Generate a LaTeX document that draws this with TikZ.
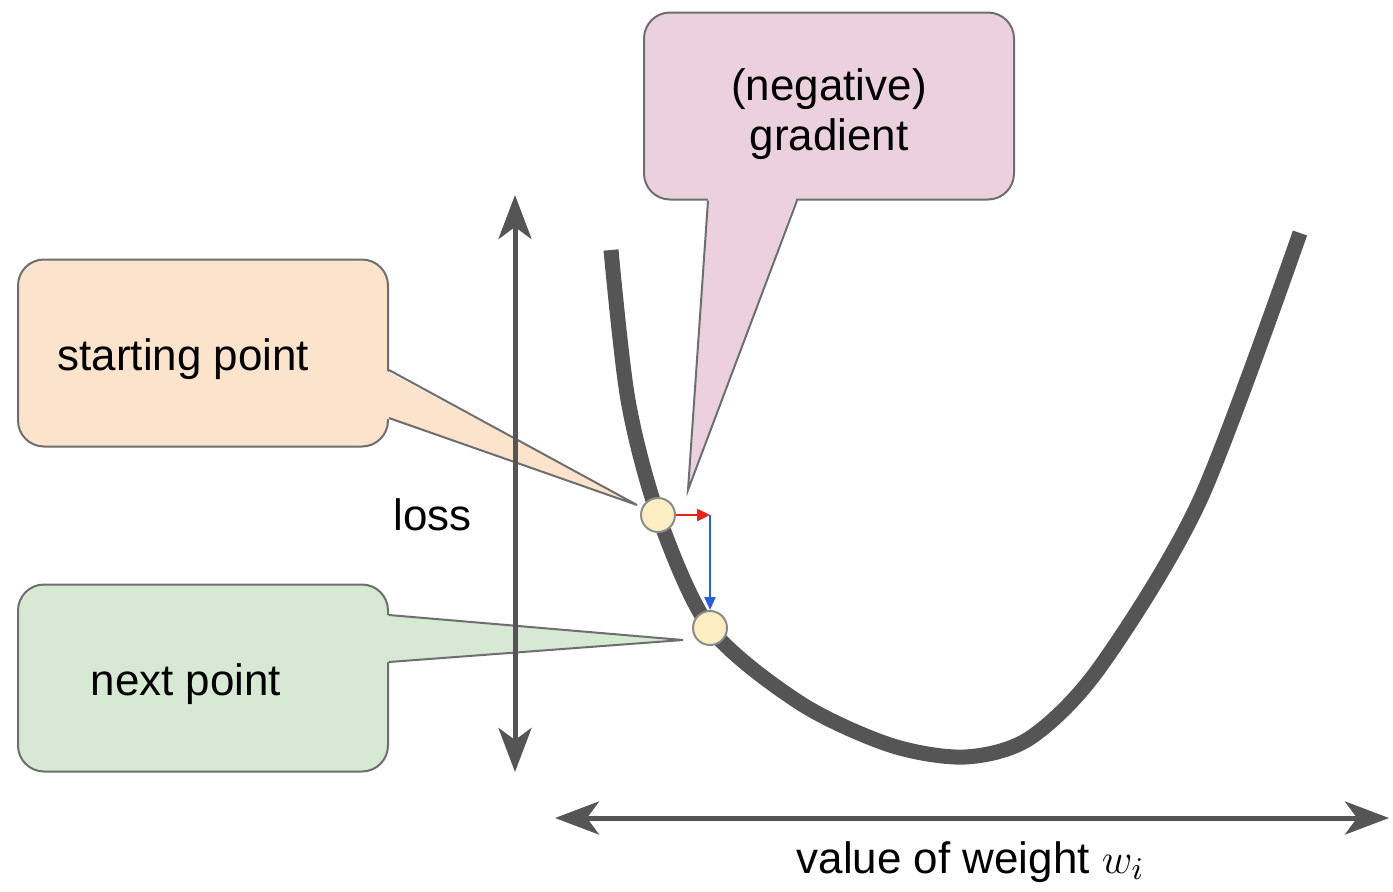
\documentclass[tikz,border=0pt]{standalone}
\usepackage{xcolor}
\usepackage{fontspec}
\setmainfont{Liberation Sans}
\usepackage{tikz}
\usetikzlibrary{arrows.meta,positioning}

\definecolor{peach}{HTML}{FCE4CC}
\definecolor{mint}{HTML}{D6E9D3}
\definecolor{rose}{HTML}{EBD0DD}
\definecolor{edgegray}{HTML}{6E6E6E}
\definecolor{curvegray}{HTML}{555555}
\definecolor{dotfill}{HTML}{FCEDC3}
\definecolor{stepred}{HTML}{E8211B}
\definecolor{stepblue}{HTML}{2A5FDB}

\tikzset{
  callout/.style={draw=edgegray,line width=0.2mm,rounded corners=2.6mm,
                  minimum width=37mm,minimum height=18.7mm,inner sep=0pt},
  tail/.style={draw=edgegray,line width=0.2mm},
  axis/.style={draw=curvegray,line width=0.5mm,
               {Stealth[length=4.4mm,width=3.3mm,inset=1.2mm]}-{Stealth[length=4.4mm,width=3.3mm,inset=1.2mm]}},
  dot/.style={circle,draw=edgegray!80,fill=dotfill,line width=0.2mm,
              minimum size=3.4mm,inner sep=0pt},
  lbl/.style={font=\fontsize{12.5pt}{14.2pt}\selectfont,inner sep=0pt}
}

\begin{document}
\begin{tikzpicture}[x=0.1mm,y=-0.1mm]
\useasboundingbox (0,0) rectangle (1393,891);

% callout boxes
\node[callout,fill=peach] (start) at (203,353) {};
\node[callout,fill=mint] (next) at (203,678) {};
\node[callout,fill=rose] (grad) at (829,106) {};

\coordinate (tipstart) at (637,505);
\coordinate (tipnext) at (683,640);
\coordinate (tipgrad) at (688,490);

% tails
\fill[peach] ([shift={(-4,17)}]start.east) -- (tipstart) -- ([shift={(-4,65)}]start.east) -- cycle;
\draw[tail] ([shift={(0,17)}]start.east) -- (tipstart) -- ([shift={(0,65)}]start.east);
\fill[mint] ([shift={(-4,-63)}]next.east) -- (tipnext) -- ([shift={(-4,-16)}]next.east) -- cycle;
\draw[tail] ([shift={(0,-63)}]next.east) -- (tipnext) -- ([shift={(0,-16)}]next.east);
\fill[rose] ([shift={(-121,-4)}]grad.south) -- (tipgrad) -- ([shift={(-32,-4)}]grad.south) -- cycle;
\draw[tail] ([shift={(-121,0)}]grad.south) -- (tipgrad) -- ([shift={(-32,0)}]grad.south);

\node[lbl,anchor=base west] (starttext) at (57,370) {starting point};
\node[lbl,anchor=base west] (nexttext) at (90,695) {next point};
\node[lbl,anchor=base] (negtext) at (829,100) {(negative)};
\node[lbl,anchor=base] (gradtext) at (829,150) {gradient};

% axes
\coordinate (losstop) at (515,195);
\coordinate (lossbot) at (515,772);
\coordinate (wleft) at (555,818);
\coordinate (wright) at (1389,818);
\draw[axis] (lossbot) -- (losstop);
\draw[axis] (wleft) -- (wright);
\node[lbl,anchor=base west] (losslbl) at (393,530) {loss};
\node[lbl,anchor=base west] (wlbl) at (796,873) {value of weight $w_i$};

% loss curve
\draw[curvegray,line width=1.5mm] plot[smooth,tension=0.5] coordinates
  {(611,250) (628,400) (658,515) (710,628) (800,703) (890,745) (965,757)
   (1030,738) (1100,667) (1200,500) (1300,233)};

\node[dot] (p0) at (658,515) {};
\node[dot] (p1) at (710,628) {};
\coordinate (gradend) at (710,515);
\draw[stepred,line width=0.25mm,-{Triangle[length=1.3mm,width=1.2mm]}] (p0.east) -- (gradend);
\draw[stepblue,line width=0.2mm,-{Triangle[length=1.3mm,width=1.1mm]}] (gradend) -- (p1.north);
\end{tikzpicture}
\end{document}
